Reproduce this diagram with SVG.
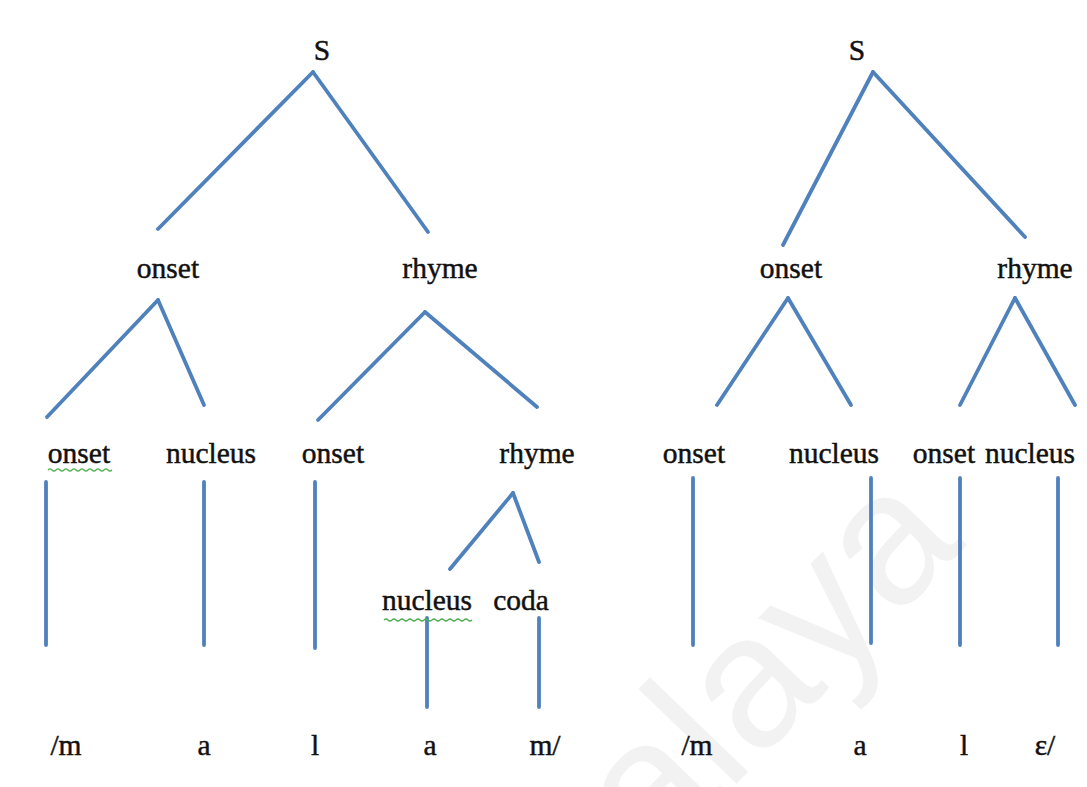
<svg xmlns="http://www.w3.org/2000/svg" width="1087" height="787" viewBox="0 0 1087 787">
<style>
.t{font-family:"Liberation Serif","Times New Roman",serif;font-size:29.5px;fill:#111;stroke:#111;stroke-width:0.45;text-anchor:middle}
.c line{stroke:#4f81bd;stroke-width:3.8;stroke-linecap:round}
.sq{fill:none;stroke:#4caf50;stroke-width:1.2}
.wm{font-family:"Liberation Sans",Arial,sans-serif;font-size:188px;fill:#f2f2f2}
</style>
<rect width="1087" height="787" fill="#ffffff"/>
<text class="wm" transform="translate(655,868) rotate(-46)">alaya</text>
<g class="c" id="connectors">
<line x1="313" y1="72" x2="158" y2="229"/>
<line x1="313" y1="72" x2="428" y2="232"/>
<line x1="158" y1="300" x2="47" y2="417"/>
<line x1="158" y1="300" x2="204" y2="405"/>
<line x1="425" y1="312" x2="318" y2="420"/>
<line x1="425" y1="312" x2="537" y2="407"/>
<line x1="46" y1="482" x2="46" y2="645"/>
<line x1="204" y1="482" x2="204" y2="645"/>
<line x1="315" y1="482" x2="315" y2="648"/>
<line x1="513" y1="493" x2="450" y2="569"/>
<line x1="513" y1="493" x2="539" y2="562"/>
<line x1="427" y1="618" x2="427" y2="707"/>
<line x1="539" y1="618" x2="539" y2="707"/>
<line x1="873" y1="72" x2="783" y2="245"/>
<line x1="873" y1="72" x2="1025" y2="237"/>
<line x1="788" y1="298" x2="717" y2="405"/>
<line x1="788" y1="298" x2="851" y2="405"/>
<line x1="1015" y1="298" x2="960" y2="405"/>
<line x1="1015" y1="298" x2="1075" y2="405"/>
<line x1="693" y1="478" x2="693" y2="645"/>
<line x1="871" y1="478" x2="871" y2="643"/>
<line x1="960" y1="478" x2="960" y2="645"/>
<line x1="1058" y1="478" x2="1058" y2="645"/>
</g>
<g id="L-S"><text class="t" x="322" y="60">S</text></g>
<g id="L-onset1"><text class="t" x="168" y="278">onset</text></g>
<g id="L-rhyme1"><text class="t" x="440" y="278">rhyme</text></g>
<g id="L-onset2"><text class="t" x="79" y="463">onset</text><path class="sq" d="M48 470 q2 -2 4 0 t4 0 t4 0 t4 0 t4 0 t4 0 t4 0 t4 0 t4 0 t4 0 t4 0 t4 0 t4 0 t4 0 t4 0 t4 0"/></g>
<g id="L-nucleus2"><text class="t" x="211" y="463">nucleus</text></g>
<g id="L-onset3"><text class="t" x="333" y="463">onset</text></g>
<g id="L-rhyme2"><text class="t" x="537" y="463">rhyme</text></g>
<g id="L-nucleus3"><text class="t" x="427" y="610">nucleus</text><path class="sq" d="M384 620 q2 -2 4 0 t4 0 t4 0 t4 0 t4 0 t4 0 t4 0 t4 0 t4 0 t4 0 t4 0 t4 0 t4 0 t4 0 t4 0 t4 0 t4 0 t4 0 t4 0 t4 0 t4 0 t4 0"/></g>
<g id="L-coda"><text class="t" x="521" y="610">coda</text></g>
<g id="L-m1"><text class="t" x="66" y="755">/m</text></g>
<g id="L-a1"><text class="t" x="204" y="755">a</text></g>
<g id="L-l"><text class="t" x="315" y="755">l</text></g>
<g id="L-a2"><text class="t" x="430" y="755">a</text></g>
<g id="L-m2"><text class="t" x="545" y="755">m/</text></g>
<g id="R-S"><text class="t" x="857" y="60">S</text></g>
<g id="R-onset1"><text class="t" x="791" y="278">onset</text></g>
<g id="R-rhyme1"><text class="t" x="1035" y="278">rhyme</text></g>
<g id="R-onset2"><text class="t" x="694" y="463">onset</text></g>
<g id="R-nucleus2"><text class="t" x="834" y="463">nucleus</text></g>
<g id="R-onset3"><text class="t" x="944" y="463">onset</text></g>
<g id="R-nucleus3"><text class="t" x="1030" y="463">nucleus</text></g>
<g id="R-m"><text class="t" x="697" y="755">/m</text></g>
<g id="R-a"><text class="t" x="860" y="755">a</text></g>
<g id="R-l"><text class="t" x="964" y="755">l</text></g>
<g id="R-e"><text class="t" x="1045" y="755">ɛ/</text></g>
</svg>
